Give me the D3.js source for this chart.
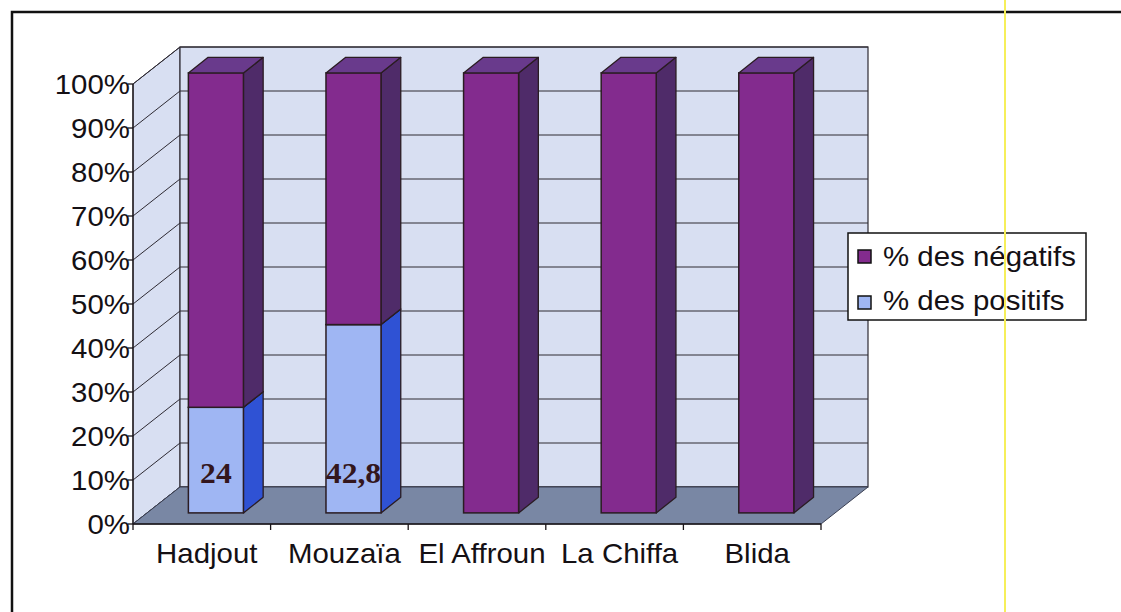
<!DOCTYPE html>
<html>
<head>
<meta charset="utf-8">
<script src="https://cdn.jsdelivr.net/npm/d3@7/dist/d3.min.js"></script>
<style>
  html, body { margin: 0; padding: 0; background: #fff; }
  svg { display: block; }
  text { font-family: "Liberation Sans", Arial, sans-serif; fill: #141014; }
</style>
</head>
<body>
<svg id="chart" width="1121" height="612"></svg>
<script>
// Positive / negative share per commune (%)
const communes = ["Hadjout", "Mouzaïa", "El Affroun", "La Chiffa", "Blida"];
const positifs = [24, 42.8, 0, 0, 0];
const negatifs = [76, 57.2, 100, 100, 100];
const seriesNames = ["% des négatifs", "% des positifs"];
const yTicks = [0, 10, 20, 30, 40, 50, 60, 70, 80, 90, 100];

const svg = d3.select("#chart");

// 3D box geometry: front plane + depth offset
const depthX = 47, depthY = -37;
const barFront = 0.3, barBack = 0.72;   // bar position inside the depth
const wide = 1.09;                      // horizontal stretch of the lettering

const x = d3.scaleBand().domain(communes).range([133, 821])
  .paddingInner(0.6).paddingOuter(0.3);
const y = d3.scaleLinear().domain([0, 100]).range([524, 84]);

const colors = {
  neg: { front: "#832b8e", side: "#4f2b69", top: "#693a8c" },
  pos: { front: "#9fb6f3", side: "#2f52d4", top: "#7f98e6" },
  wall: "#d8dff2", floor: "#7987a4", edge: "#2a1c22", grid: "#2e2a33"
};

const x0 = x.range()[0], x1 = x.range()[1];
const yTop = y(100), yBot = y(0);
const pts = a => a.map(p => p.join(",")).join(" ");

// Text placed at (px, py) and stretched horizontally around its anchor
function label(g, px, py, str, anchor, size) {
  return g.append("text")
    .attr("transform", `translate(${px},${py}) scale(${wide},1)`)
    .attr("text-anchor", anchor)
    .style("font-size", size + "px")
    .text(str);
}

// Outer frame
svg.append("rect").attr("x", 12).attr("y", 12).attr("width", 1200).attr("height", 700)
  .attr("fill", "none").attr("stroke", "#111").attr("stroke-width", 2.5);

// Side wall (left) and back wall
svg.append("polygon")
  .attr("points", pts([[x0, yTop], [x0 + depthX, yTop + depthY], [x0 + depthX, yBot + depthY], [x0, yBot]]))
  .attr("fill", colors.wall).attr("stroke", colors.grid).attr("stroke-width", 1);
svg.append("rect")
  .attr("x", x0 + depthX).attr("y", yTop + depthY)
  .attr("width", x1 - x0).attr("height", yBot - yTop)
  .attr("fill", colors.wall).attr("stroke", colors.grid).attr("stroke-width", 1.2);

// Gridlines on both walls
const grid = svg.append("g").attr("stroke", colors.grid).attr("stroke-width", 1).attr("fill", "none");
yTicks.forEach(t => {
  const yy = y(t);
  grid.append("polyline")
    .attr("points", pts([[x0, yy], [x0 + depthX, yy + depthY], [x1 + depthX, yy + depthY]]));
});

// Floor
svg.append("polygon")
  .attr("points", pts([[x0, yBot], [x0 + depthX, yBot + depthY], [x1 + depthX, yBot + depthY], [x1, yBot]]))
  .attr("fill", colors.floor).attr("stroke", "#3a3f52").attr("stroke-width", 1);

// Front axis lines and ticks
const axes = svg.append("g").attr("stroke", "#1a1418").attr("stroke-width", 1.3);
axes.append("line").attr("x1", x0).attr("x2", x0).attr("y1", yTop).attr("y2", yBot);
axes.append("line").attr("x1", x0).attr("x2", x1).attr("y1", yBot).attr("y2", yBot);
yTicks.forEach(t => {
  axes.append("line").attr("x1", x0 - 5).attr("x2", x0).attr("y1", y(t)).attr("y2", y(t));
});
const step = x.step();
d3.range(communes.length + 1).forEach(i => {
  const xx = x0 + i * step;
  axes.append("line").attr("x1", xx).attr("x2", xx).attr("y1", yBot).attr("y2", yBot + 6);
});

// Stacked 3D bars
const fdx = depthX * barFront, fdy = depthY * barFront;
const bdx = depthX * (barBack - barFront), bdy = depthY * (barBack - barFront);

function box(g, left, w, vLow, vHigh, c) {
  const xl = left + fdx, xr = xl + w;
  const yl = y(vLow) + fdy, yh = y(vHigh) + fdy;
  // side face
  g.append("polygon")
    .attr("points", pts([[xr, yh], [xr + bdx, yh + bdy], [xr + bdx, yl + bdy], [xr, yl]]))
    .attr("fill", c.side).attr("stroke", colors.edge).attr("stroke-width", 1.3).attr("stroke-linejoin", "round");
  // front face
  g.append("rect").attr("x", xl).attr("y", yh).attr("width", w).attr("height", yl - yh)
    .attr("fill", c.front).attr("stroke", colors.edge).attr("stroke-width", 1.5);
  // top face
  g.append("polygon")
    .attr("points", pts([[xl, yh], [xl + bdx, yh + bdy], [xr + bdx, yh + bdy], [xr, yh]]))
    .attr("fill", c.top).attr("stroke", colors.edge).attr("stroke-width", 1.3).attr("stroke-linejoin", "round");
}

const bars = svg.append("g");
communes.forEach((name, i) => {
  const g = bars.append("g");
  const left = x(name), w = x.bandwidth();
  if (positifs[i] > 0) box(g, left, w, 0, positifs[i], colors.pos);
  box(g, left, w, positifs[i], positifs[i] + negatifs[i], colors.neg);
});

// Value labels on the positive segments
const values = svg.append("g");
communes.forEach((name, i) => {
  if (positifs[i] <= 0) return;
  label(values, x(name) + fdx + x.bandwidth() / 2, yBot + fdy - 30,
        String(positifs[i]).replace(".", ","), "middle", 29)
    .style("font-family", "'Liberation Serif', 'Times New Roman', serif")
    .style("font-weight", "bold")
    .style("fill", "#33161d");
});

// Y axis labels
const yLabels = svg.append("g");
yTicks.forEach(t => label(yLabels, 130, y(t) + 10, t + "%", "end", 27));

// Category labels
const xLabels = svg.append("g");
communes.forEach(c => label(xLabels, x(c) + x.bandwidth() / 2 + 5, 563, c, "middle", 27));

// Legend
const legend = svg.append("g");
legend.append("rect").attr("x", 848).attr("y", 233).attr("width", 238).attr("height", 87)
  .attr("fill", "#fff").attr("stroke", "#111").attr("stroke-width", 1.5);
const legendColors = [colors.neg.front, colors.pos.front];
seriesNames.forEach((s, i) => {
  legend.append("rect").attr("x", 858).attr("y", 250 + i * 46).attr("width", 13).attr("height", 13)
    .attr("fill", legendColors[i]).attr("stroke", "#111").attr("stroke-width", 1.5);
  label(legend, 883, 266 + i * 44, s, "start", 27);
});

// Thin yellow vertical rule across the page
svg.append("line").attr("x1", 1005).attr("x2", 1005).attr("y1", 0).attr("y2", 612)
  .attr("stroke", "#f6ef5a").attr("stroke-width", 2);
</script>
</body>
</html>
